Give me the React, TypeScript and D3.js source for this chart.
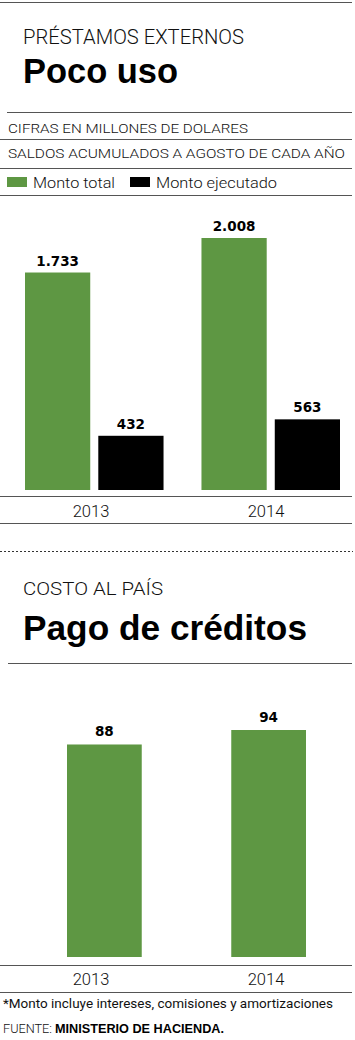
import React from "react";
import * as d3 from "d3";

const years = ["2013", "2014"];
const seriesNames = ["Monto total", "Monto ejecutado"];
const montoTotal = [1733, 2008];
const montoEjecutado = [432, 563];
const totalLabels = ["1.733", "2.008"];
const ejecutadoLabels = ["432", "563"];
const pagoCreditos = [88, 94];
const pagoLabels = ["88", "94"];

const GREEN = "#5e9743";
const BLACK = "#000000";
const LINE = "#555555";
const LIGHT = "Roboto, 'Liberation Sans', sans-serif";
const BOLD = "'Liberation Sans', Arial, sans-serif";
const NUM = "'DejaVu Sans', sans-serif";

export default function App() {
  const W = 355;
  const H = 1040;

  // Chart 1 scales
  const x0 = d3.scaleBand<string>().domain(years).range([25, 340]).paddingInner(0.215).paddingOuter(0);
  const x1 = d3.scaleBand<string>().domain(seriesNames).range([0, x0.bandwidth()]).paddingInner(0.11).paddingOuter(0);
  const y1 = d3.scaleLinear().domain([0, 2008]).range([490, 238]);
  const colors = d3.scaleOrdinal<string, string>().domain(seriesNames).range([GREEN, BLACK]);
  const seriesValues = [montoTotal, montoEjecutado];
  const seriesLabels = [totalLabels, ejecutadoLabels];

  // shared year label positions
  const xl = d3.scaleBand<string>().domain(years).range([3.5, 353.5]);

  // Chart 2 scales
  const x2 = d3.scaleBand<string>().domain(years).range([67, 306]).paddingInner(0.545).paddingOuter(0);
  const y2 = d3.scaleLinear().domain([0, 94]).range([957, 730]);

  const lightText = (t: string, x: number, y: number, size: number, len?: number, anchor = "start", weight = 300) => (
    <text
      x={x}
      y={y}
      fontFamily={LIGHT}
      fontWeight={weight}
      fontSize={size}
      fill="#111"
      textAnchor={anchor}
      {...(len ? { textLength: len, lengthAdjust: "spacingAndGlyphs" } : {})}
    >
      {t}
    </text>
  );

  return (
    <svg
      width={W}
      height={H}
      style={{ position: "absolute", left: 0, top: 0, display: "block", background: "#fff" }}
    >
      <rect x={0} y={0} width={W} height={H} fill="#fff" />
      {/* Header section 1 */}
      <line x1={0} x2={352} y1={2.5} y2={2.5} stroke={LINE} strokeWidth={1} />
      {lightText("PRÉSTAMOS EXTERNOS", 23, 44, 19.5, 221)}
      <text x={23} y={83} fontFamily={BOLD} fontWeight={700} fontSize={35} fill="#000" textLength={155} lengthAdjust="spacingAndGlyphs">
        Poco uso
      </text>
      <line x1={7} x2={352} y1={112.5} y2={112.5} stroke={LINE} strokeWidth={1} />
      {lightText("CIFRAS EN MILLONES DE DOLARES", 8, 133, 13.5, 240)}
      <line x1={0} x2={352} y1={139.5} y2={139.5} stroke={LINE} strokeWidth={1} />
      {lightText("SALDOS ACUMULADOS A AGOSTO DE CADA AÑO", 8, 158, 13.5, 337)}
      <line x1={0} x2={352} y1={168.5} y2={168.5} stroke={LINE} strokeWidth={1} />

      {/* Legend */}
      <rect x={7} y={177} width={20} height={10} fill={GREEN} />
      {lightText("Monto total", 33, 188, 15.5, 82)}
      <rect x={130} y={177} width={20} height={10} fill={BLACK} />
      {lightText("Monto ejecutado", 156, 188, 15.5, 121)}
      <line x1={0} x2={352} y1={195.5} y2={195.5} stroke={LINE} strokeWidth={1} />

      {/* Chart 1 bars */}
      {years.map((yr, i) => (
        <g key={yr} transform={`translate(${x0(yr)},0)`}>
          {seriesNames.map((s, j) => {
            const v = seriesValues[j][i];
            const bx = x1(s)!;
            return (
              <g key={s}>
                <rect x={bx} y={y1(v)} width={x1.bandwidth()} height={y1(0) - y1(v)} fill={colors(s)} />
                <text
                  x={bx + x1.bandwidth() / 2}
                  y={y1(v) - 7}
                  textAnchor="middle"
                  fontFamily={NUM}
                  fontWeight={700}
                  fontSize={13.5}
                  fill="#000"
                >
                  {seriesLabels[j][i]}
                </text>
              </g>
            );
          })}
        </g>
      ))}
      <line x1={0} x2={352} y1={496.5} y2={496.5} stroke={LINE} strokeWidth={1} />
      {years.map((yr) => (
        <g key={yr}>{lightText(yr, xl(yr)! + xl.bandwidth() / 2, 517, 16.5, undefined, "middle")}</g>
      ))}
      <line x1={0} x2={352} y1={523.5} y2={523.5} stroke={LINE} strokeWidth={1} />

      {/* Dotted separator */}
      <line x1={0} x2={353} y1={551.5} y2={551.5} stroke="#333" strokeWidth={1} strokeDasharray="2,2" />

      {/* Header section 2 */}
      {lightText("COSTO AL PAÍS", 23, 595, 18.5, 140)}
      <text x={23} y={640} fontFamily={BOLD} fontWeight={700} fontSize={35} fill="#000" textLength={284} lengthAdjust="spacingAndGlyphs">
        Pago de créditos
      </text>
      <line x1={8} x2={352} y1={663.5} y2={663.5} stroke={LINE} strokeWidth={1} />

      {/* Chart 2 bars */}
      {years.map((yr, i) => {
        const v = pagoCreditos[i];
        return (
          <g key={yr}>
            <rect x={x2(yr)} y={y2(v)} width={x2.bandwidth()} height={y2(0) - y2(v)} fill={GREEN} />
            <text
              x={x2(yr)! + x2.bandwidth() / 2}
              y={y2(v) - 8}
              textAnchor="middle"
              fontFamily={NUM}
              fontWeight={700}
              fontSize={13.5}
              fill="#000"
            >
              {pagoLabels[i]}
            </text>
          </g>
        );
      })}
      <line x1={0} x2={352} y1={965.5} y2={965.5} stroke={LINE} strokeWidth={1} />
      {years.map((yr) => (
        <g key={yr}>{lightText(yr, xl(yr)! + xl.bandwidth() / 2, 985, 16.5, undefined, "middle")}</g>
      ))}
      <line x1={0} x2={352} y1={992.5} y2={992.5} stroke={LINE} strokeWidth={1} />

      {/* Footnotes */}
      {lightText("*Monto incluye intereses, comisiones y amortizaciones", 3, 1008, 13.5, 330, "start", 400)}
      {lightText("FUENTE:", 3, 1033, 12.5, 49, "start", 300)}
      <text x={55} y={1033} fontSize={12.5} fontFamily={BOLD} fontWeight={700} fill="#000" textLength={169} lengthAdjust="spacingAndGlyphs">
        MINISTERIO DE HACIENDA.
      </text>
    </svg>
  );
}
